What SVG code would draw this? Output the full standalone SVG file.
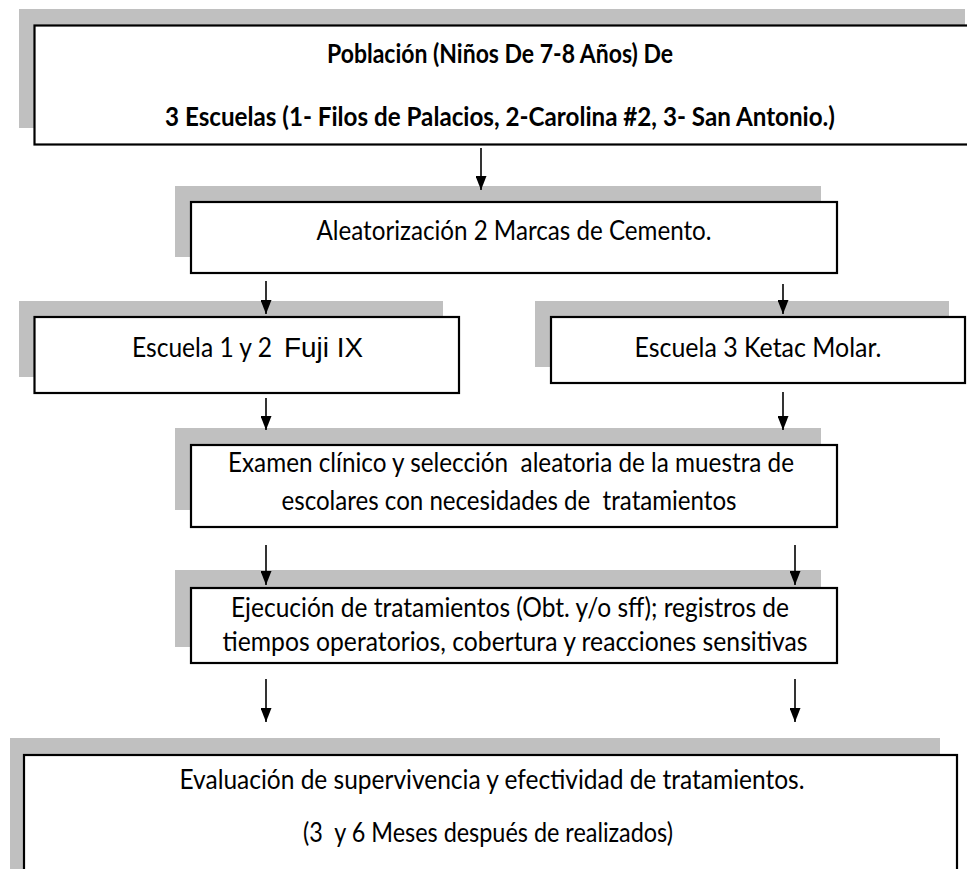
<svg xmlns="http://www.w3.org/2000/svg" width="967" height="869" viewBox="0 0 967 869">
  <style>
    .sh { fill: #c0c0c0; stroke: none; }
    .bx { fill: #ffffff; stroke: #000000; stroke-width: 2.2; }
    .t { font-family: Lato, "Liberation Sans", sans-serif; font-size: 26px; fill: #000000; }
    .b { font-weight: bold; }
    .ar { font-family: "Liberation Sans", Arial, sans-serif; font-size: 28px; fill: #000000; }
    .ln { stroke: #000000; stroke-width: 1.6; fill: none; }
  </style>
  <defs>
    <marker id="ah" markerUnits="userSpaceOnUse" markerWidth="14" markerHeight="11" refX="14" refY="5.5" orient="auto" viewBox="0 0 14 11">
      <polygon points="0,0 14,5.5 0,11" fill="#000000"/>
    </marker>
  </defs>
  <rect width="967" height="869" fill="#ffffff"/>

  <g id="n1">
    <rect class="sh" x="19" y="9" width="946" height="119"/>
    <rect class="bx" x="34.5" y="25.5" width="950" height="119"/>
    <text class="t b" x="500" y="63" text-anchor="middle" textLength="346" lengthAdjust="spacingAndGlyphs">Población (Niños De 7-8 Años) De</text>
    <text class="t b" x="500" y="126" text-anchor="middle" textLength="670" lengthAdjust="spacingAndGlyphs">3 Escuelas (1- Filos de Palacios, 2-Carolina #2, 3- San Antonio.)</text>
  </g>

  <g id="n2">
    <rect class="sh" x="175" y="186" width="646" height="71"/>
    <rect class="bx" x="191" y="202" width="646" height="71"/>
    <text class="t" x="514" y="240" text-anchor="middle" textLength="395" lengthAdjust="spacingAndGlyphs">Aleatorización 2 Marcas de Cemento.</text>
  </g>

  <g id="n3">
    <rect class="sh" x="19" y="301" width="424" height="76"/>
    <rect class="bx" x="34.5" y="317" width="424.5" height="76"/>
    <text class="t" x="132" y="357" font-size="27" textLength="140" lengthAdjust="spacingAndGlyphs">Escuela 1 y 2</text>
    <text class="ar" x="284" y="357" textLength="79" lengthAdjust="spacingAndGlyphs">Fuji IX</text>
  </g>

  <g id="n4">
    <rect class="sh" x="535" y="301" width="414" height="66"/>
    <rect class="bx" x="551" y="317" width="414" height="66"/>
    <text class="t" x="758" y="357" font-size="27" text-anchor="middle" textLength="247" lengthAdjust="spacingAndGlyphs">Escuela 3 Ketac Molar.</text>
  </g>

  <g id="n5">
    <rect class="sh" x="175" y="428" width="646" height="82"/>
    <rect class="bx" x="191" y="445" width="646" height="82"/>
    <text class="t" x="511" y="472" text-anchor="middle" textLength="566" lengthAdjust="spacingAndGlyphs" xml:space="preserve">Examen clínico y selección  aleatoria de la muestra de</text>
    <text class="t" x="509" y="510" text-anchor="middle" textLength="455" lengthAdjust="spacingAndGlyphs" xml:space="preserve">escolares con necesidades de  tratamientos</text>
  </g>

  <g id="n6">
    <rect class="sh" x="175" y="570" width="646" height="77"/>
    <rect class="bx" x="191" y="588" width="646" height="75"/>
    <text class="t" x="510" y="617" text-anchor="middle" textLength="558" lengthAdjust="spacingAndGlyphs">Ejecución de tratamientos (Obt. y/o sff); registros de</text>
    <text class="t" x="515" y="651" text-anchor="middle" textLength="585" lengthAdjust="spacingAndGlyphs">tiempos operatorios, cobertura y reacciones sensitivas</text>
  </g>

  <g id="n7">
    <rect class="sh" x="10" y="738" width="930" height="140"/>
    <rect class="bx" x="24" y="755" width="933" height="130"/>
    <text class="t" x="492" y="789" text-anchor="middle" textLength="625" lengthAdjust="spacingAndGlyphs">Evaluación de supervivencia y efectividad de tratamientos.</text>
    <text class="t" x="488" y="842" text-anchor="middle" textLength="370" lengthAdjust="spacingAndGlyphs" xml:space="preserve">(3  y 6 Meses después de realizados)</text>
  </g>

  <g id="connectors">
    <line class="ln" x1="481" y1="148" x2="481" y2="190" marker-end="url(#ah)"/>
    <line class="ln" x1="266" y1="281" x2="266" y2="314" marker-end="url(#ah)"/>
    <line class="ln" x1="783" y1="284" x2="783" y2="314" marker-end="url(#ah)"/>
    <line class="ln" x1="266" y1="398" x2="266" y2="430" marker-end="url(#ah)"/>
    <line class="ln" x1="783" y1="392" x2="783" y2="430" marker-end="url(#ah)"/>
    <line class="ln" x1="266" y1="545" x2="266" y2="585" marker-end="url(#ah)"/>
    <line class="ln" x1="795" y1="545" x2="795" y2="585" marker-end="url(#ah)"/>
    <line class="ln" x1="266" y1="679" x2="266" y2="722" marker-end="url(#ah)"/>
    <line class="ln" x1="795" y1="679" x2="795" y2="722" marker-end="url(#ah)"/>
  </g>
</svg>
